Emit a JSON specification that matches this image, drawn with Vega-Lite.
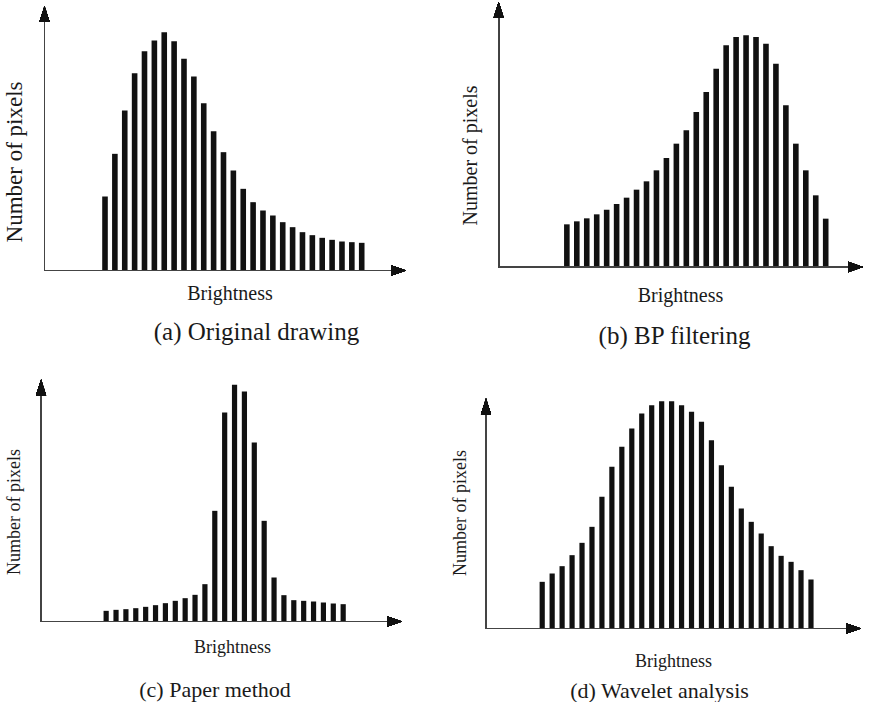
{
  "$schema": "https://vega.github.io/schema/vega-lite/v6.json",
  "background": "white",
  "padding": 0,
  "columns": 2,
  "spacing": {"row": 104.5, "column": 70},
  "bounds": "flush",
  "config": {
    "view": {"stroke": null},
    "font": "Liberation Serif",
    "axis": {"domain": false, "ticks": false, "labels": false, "grid": false, "titleFont": "Liberation Serif", "titleFontWeight": "normal", "titleColor": "#1a1a1a", "titleAlign": "center"},
    "title": {"font": "Liberation Serif", "fontWeight": "normal", "color": "#1a1a1a", "orient": "bottom", "anchor": "middle", "frame": "group", "baseline": "alphabetic"}
  },
  "datasets": {
    "a": [{"k":1,"n":222},{"k":2,"n":350},{"k":3,"n":480},{"k":4,"n":592},{"k":5,"n":658},{"k":6,"n":690},{"k":7,"n":715},{"k":8,"n":688},{"k":9,"n":635},{"k":10,"n":582},{"k":11,"n":502},{"k":12,"n":418},{"k":13,"n":355},{"k":14,"n":300},{"k":15,"n":245},{"k":16,"n":205},{"k":17,"n":180},{"k":18,"n":165},{"k":19,"n":145},{"k":20,"n":130},{"k":21,"n":115},{"k":22,"n":106},{"k":23,"n":98},{"k":24,"n":92},{"k":25,"n":87},{"k":26,"n":85},{"k":27,"n":83}],
    "b": [{"k":1,"n":128},{"k":2,"n":137},{"k":3,"n":146},{"k":4,"n":158},{"k":5,"n":172},{"k":6,"n":189},{"k":7,"n":208},{"k":8,"n":232},{"k":9,"n":257},{"k":10,"n":290},{"k":11,"n":327},{"k":12,"n":370},{"k":13,"n":410},{"k":14,"n":465},{"k":15,"n":525},{"k":16,"n":595},{"k":17,"n":665},{"k":18,"n":690},{"k":19,"n":695},{"k":20,"n":690},{"k":21,"n":670},{"k":22,"n":610},{"k":23,"n":485},{"k":24,"n":370},{"k":25,"n":290},{"k":26,"n":215},{"k":27,"n":145}],
    "c": [{"k":1,"n":32},{"k":2,"n":35},{"k":3,"n":37},{"k":4,"n":40},{"k":5,"n":44},{"k":6,"n":49},{"k":7,"n":55},{"k":8,"n":62},{"k":9,"n":70},{"k":10,"n":80},{"k":11,"n":112},{"k":12,"n":332},{"k":13,"n":627},{"k":14,"n":710},{"k":15,"n":690},{"k":16,"n":537},{"k":17,"n":302},{"k":18,"n":132},{"k":19,"n":79},{"k":20,"n":64},{"k":21,"n":62},{"k":22,"n":60},{"k":23,"n":57},{"k":24,"n":54},{"k":25,"n":52}],
    "d": [{"k":1,"n":140},{"k":2,"n":165},{"k":3,"n":187},{"k":4,"n":220},{"k":5,"n":257},{"k":6,"n":305},{"k":7,"n":395},{"k":8,"n":485},{"k":9,"n":545},{"k":10,"n":600},{"k":11,"n":645},{"k":12,"n":670},{"k":13,"n":682},{"k":14,"n":682},{"k":15,"n":670},{"k":16,"n":650},{"k":17,"n":620},{"k":18,"n":565},{"k":19,"n":490},{"k":20,"n":425},{"k":21,"n":360},{"k":22,"n":320},{"k":23,"n":285},{"k":24,"n":247},{"k":25,"n":218},{"k":26,"n":200},{"k":27,"n":175},{"k":28,"n":147}]
  },
  "concat": [
    {
      "width": 411, "height": 270.5,
      "data": {"name": "a"},
      "title": {"text": "(a) Original drawing", "fontSize": 25, "dx": 51, "offset": 16},
      "layer": [
        {"mark": {"type": "bar", "size": 5.6, "color": "#111"},
         "encoding": {
           "x": {"field": "k", "type": "quantitative", "scale": {"domain": [-9.128, 31.485], "nice": false, "zero": false}, "axis": {"title": "Brightness", "titleFontSize": 20, "titleX": 229.5, "titleY": 29, "titleBaseline": "alphabetic"}},
           "y": {"field": "n", "type": "quantitative", "scale": {"domain": [0, 811.5], "nice": false}, "axis": {"title": "Number of pixels", "titleFontSize": 23, "titleX": 14.5, "titleY": 161.5, "titleAngle": -90, "titleBaseline": "middle"}}
         }},
        {"mark": {"type": "rule", "color": "#444", "strokeWidth": 1}, "encoding": {"x": {"datum": -5.126}, "y": {"datum": 0}, "y2": {"datum": 769.5}}},
        {"mark": {"type": "rule", "color": "#444", "strokeWidth": 1}, "encoding": {"x": {"datum": -5.126}, "x2": {"datum": 30.793}, "y": {"datum": 0}}},
        {"mark": {"type": "point", "shape": "M0,0L0.67,2.1L-0.67,2.1Z", "filled": true, "size": 225, "color": "#111", "opacity": 1}, "encoding": {"x": {"datum": -5.126}, "y": {"datum": 793.5}}},
        {"mark": {"type": "point", "shape": "M0,0L-2,0.7L-2,-0.7Z", "filled": true, "size": 225, "color": "#111", "opacity": 1}, "encoding": {"x": {"datum": 31.485}, "y": {"datum": 0}}}
      ]
    },
    {
      "width": 387, "height": 267,
      "data": {"name": "b"},
      "title": {"text": "(b) BP filtering", "fontSize": 25, "dx": 0, "offset": 19},
      "layer": [
        {"mark": {"type": "bar", "size": 5.6, "color": "#111"},
         "encoding": {
           "x": {"field": "k", "type": "quantitative", "scale": {"domain": [-7.121, 30.746], "nice": false, "zero": false}, "axis": {"title": "Brightness", "titleFontSize": 20, "titleX": 199, "titleY": 34, "titleBaseline": "alphabetic"}},
           "y": {"field": "n", "type": "quantitative", "scale": {"domain": [0, 801], "nice": false}, "axis": {"title": "Number of pixels", "titleFontSize": 20, "titleX": -10.5, "titleY": 155, "titleAngle": -90, "titleBaseline": "middle"}}
         }},
        {"mark": {"type": "rule", "color": "#444", "strokeWidth": 1}, "encoding": {"x": {"datum": -5.849}, "y": {"datum": 0}, "y2": {"datum": 771}}},
        {"mark": {"type": "rule", "color": "#444", "strokeWidth": 1}, "encoding": {"x": {"datum": -5.849}, "x2": {"datum": 30.061}, "y": {"datum": 0}}},
        {"mark": {"type": "point", "shape": "M0,0L0.67,2.1L-0.67,2.1Z", "filled": true, "size": 225, "color": "#111", "opacity": 1}, "encoding": {"x": {"datum": -5.849}, "y": {"datum": 795}}},
        {"mark": {"type": "point", "shape": "M0,0L-2,0.7L-2,-0.7Z", "filled": true, "size": 225, "color": "#111", "opacity": 1}, "encoding": {"x": {"datum": 30.746}, "y": {"datum": 0}}}
      ]
    },
    {
      "width": 407, "height": 246,
      "data": {"name": "c"},
      "title": {"text": "(c) Paper method", "fontSize": 22, "dx": 11.5, "offset": 23},
      "layer": [
        {"mark": {"type": "bar", "size": 5.2, "color": "#111"},
         "encoding": {
           "x": {"field": "k", "type": "quantitative", "scale": {"domain": [-9.242, 30.956], "nice": false, "zero": false}, "axis": {"title": "Brightness", "titleFontSize": 18, "titleX": 232, "titleY": 31, "titleBaseline": "alphabetic"}},
           "y": {"field": "n", "type": "quantitative", "scale": {"domain": [0, 738], "nice": false}, "axis": {"title": "Number of pixels", "titleFontSize": 18, "titleX": 14.5, "titleY": 136, "titleAngle": -90, "titleBaseline": "middle"}}
         }},
        {"mark": {"type": "rule", "color": "#444", "strokeWidth": 1}, "encoding": {"x": {"datum": -5.588}, "y": {"datum": 0}, "y2": {"datum": 702}}},
        {"mark": {"type": "rule", "color": "#444", "strokeWidth": 1}, "encoding": {"x": {"datum": -5.588}, "x2": {"datum": 30.264}, "y": {"datum": 0}}},
        {"mark": {"type": "point", "shape": "M0,0L0.67,2.1L-0.67,2.1Z", "filled": true, "size": 225, "color": "#111", "opacity": 1}, "encoding": {"x": {"datum": -5.588}, "y": {"datum": 726}}},
        {"mark": {"type": "point", "shape": "M0,0L-2,0.7L-2,-0.7Z", "filled": true, "size": 225, "color": "#111", "opacity": 1}, "encoding": {"x": {"datum": 30.956}, "y": {"datum": 0}}}
      ]
    },
    {
      "width": 385, "height": 253,
      "data": {"name": "d"},
      "title": {"text": "(d) Wavelet analysis", "fontSize": 22, "dx": -14, "offset": 10},
      "layer": [
        {"mark": {"type": "bar", "size": 5.2, "color": "#111"},
         "encoding": {
           "x": {"field": "k", "type": "quantitative", "scale": {"domain": [-4.646, 33.025], "nice": false, "zero": false}, "axis": {"title": "Brightness", "titleFontSize": 18, "titleX": 192, "titleY": 38, "titleBaseline": "alphabetic"}},
           "y": {"field": "n", "type": "quantitative", "scale": {"domain": [0, 759], "nice": false}, "axis": {"title": "Number of pixels", "titleFontSize": 18, "titleX": -21, "titleY": 137, "titleAngle": -90, "titleBaseline": "middle"}}
         }},
        {"mark": {"type": "rule", "color": "#444", "strokeWidth": 1}, "encoding": {"x": {"datum": -4.646}, "y": {"datum": 0}, "y2": {"datum": 666}}},
        {"mark": {"type": "rule", "color": "#444", "strokeWidth": 1}, "encoding": {"x": {"datum": -4.646}, "x2": {"datum": 32.34}, "y": {"datum": 0}}},
        {"mark": {"type": "point", "shape": "M0,0L0.67,2.1L-0.67,2.1Z", "filled": true, "size": 225, "color": "#111", "opacity": 1}, "encoding": {"x": {"datum": -4.646}, "y": {"datum": 690}}},
        {"mark": {"type": "point", "shape": "M0,0L-2,0.7L-2,-0.7Z", "filled": true, "size": 225, "color": "#111", "opacity": 1}, "encoding": {"x": {"datum": 33.025}, "y": {"datum": 0}}}
      ]
    }
  ]
}
